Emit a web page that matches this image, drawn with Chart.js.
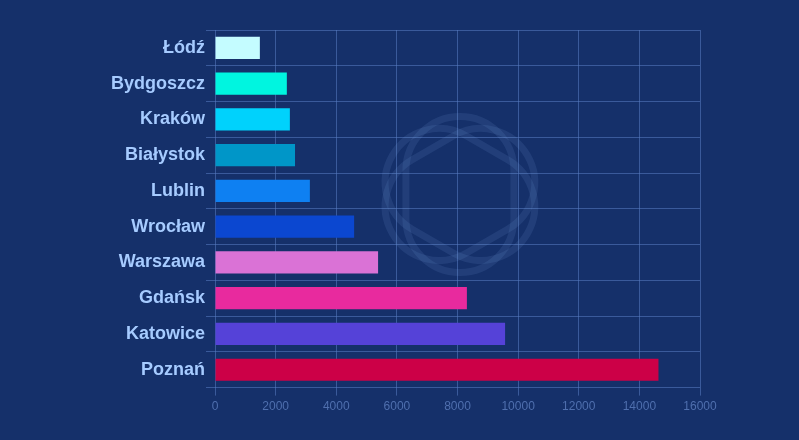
<!DOCTYPE html>
<html>
<head>
<meta charset="utf-8">
<script src="https://cdn.jsdelivr.net/npm/chart.js@4"></script>
<style>
  html, body { margin: 0; padding: 0; background: #15306a; }
  #wrap { width: 799px; height: 440px; position: relative; }
</style>
</head>
<body>
<div id="wrap"><canvas id="cityChart"></canvas></div>
<script>
const cities = ["Łódź", "Bydgoszcz", "Kraków", "Białystok", "Lublin", "Wrocław", "Warszawa", "Gdańsk", "Katowice", "Poznań"];
const values = [1480, 2370, 2470, 2640, 3130, 4590, 5380, 8310, 9570, 14630];
const barColors = ["#c4fcff", "#00f5e0", "#00d2fc", "#0096c8", "#0e80f2", "#0b47d0", "#da72d6", "#e82a9e", "#5542d8", "#cc0047"];
const xTicks = [0, 2000, 4000, 6000, 8000, 10000, 12000, 14000, 16000];

/* ===== faint logo behind the bars ===== */
const watermark = {
  id: "watermark",
  beforeDatasetsDraw(chart) {
    const { ctx, chartArea } = chart;
    const cx = chartArea.left + (chartArea.right - chartArea.left) * 0.505;
    const cy = chartArea.top + (chartArea.bottom - chartArea.top) * 0.46;
    const w = 108, h = 156, r = w / 2;
    ctx.save();
    ctx.strokeStyle = "rgba(120,160,225,0.13)";
    ctx.lineWidth = 7;
    [0, 60, 120].forEach(deg => {
      ctx.save();
      ctx.translate(cx, cy);
      ctx.rotate(deg * Math.PI / 180);
      ctx.beginPath();
      ctx.roundRect(-w / 2, -h / 2, w, h, r);
      ctx.stroke();
      ctx.restore();
    });
    ctx.restore();
  }
};

new Chart(document.getElementById("cityChart"), {
  type: "bar",
  data: {
    labels: cities,
    datasets: [{
      data: values,
      backgroundColor: barColors,
      borderWidth: 0,
      barPercentage: 0.62,
      categoryPercentage: 1,
    }],
  },
  options: {
    indexAxis: "y",
    responsive: true,
    maintainAspectRatio: false,
    animation: false,
    layout: { padding: { left: 10, right: 99, top: 30, bottom: 22 } },
    plugins: { legend: { display: false }, tooltip: { enabled: false } },
    scales: {
      x: {
        min: 0,
        max: 16000,
        afterBuildTicks: axis => { axis.ticks = xTicks.map(v => ({ value: v })); },
        ticks: {
          color: "#4f6fae",
          font: { family: "'Liberation Sans', Arial, sans-serif", size: 12 },
          padding: 4,
          callback: v => String(v),
        },
        grid: { color: "rgba(90,125,195,0.55)", tickLength: 8 },
        border: { display: false },
      },
      y: {
        afterFit: axis => { axis.width = 205; },
        ticks: {
          color: "#a6cbff",
          font: { family: "'Liberation Sans', Arial, sans-serif", size: 18, weight: "bold" },
          padding: 1,
        },
        grid: { color: "rgba(90,125,195,0.55)", tickLength: 9, offset: true },
        border: { display: false },
      },
    },
  },
  plugins: [watermark],
});
</script>
</body>
</html>
